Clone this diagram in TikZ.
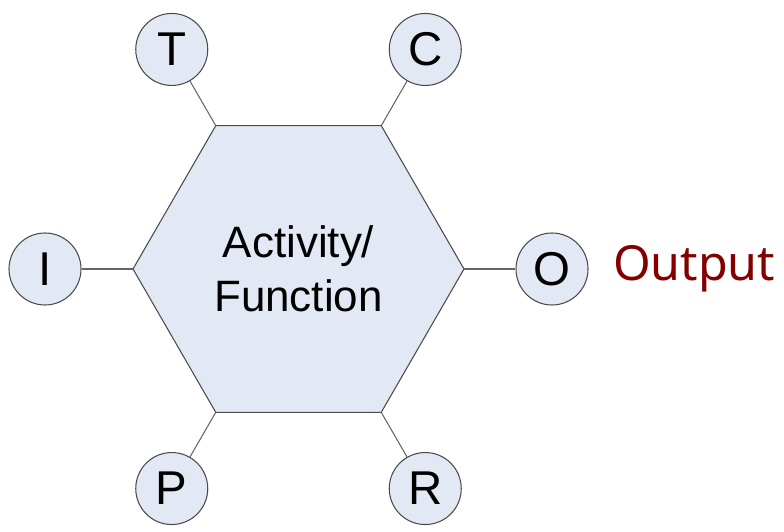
\documentclass[tikz,border=0pt]{standalone}
\usepackage{fontspec}
\setmainfont{Liberation Sans}
\newfontfamily\handfont{Noto Sans}
\usetikzlibrary{shapes.geometric,positioning}
\definecolor{HexFill}{HTML}{E3E9F4}
\definecolor{HexLine}{HTML}{4A4A4A}
\definecolor{OutRed}{HTML}{840000}

\begin{document}
\begin{tikzpicture}[line width=0.6pt,
  hexbox/.style={regular polygon,regular polygon sides=6,minimum size=6.62cm,
    inner sep=0pt,outer sep=0pt,draw=HexLine,fill=HexFill,align=center,
    font=\fontsize{25}{31}\selectfont},
  port/.style={circle,minimum size=1.44cm,inner sep=0pt,draw=HexLine,
    fill=HexFill,font=\fontsize{27}{30}\selectfont},
  link/.style={draw=HexLine!85}]
  \useasboundingbox (0,0) rectangle (15.68,10.62);

  \node[hexbox] (act) at (5.97,5.24) {Activity/\\Function};
  % one port per corner, pushed out along the corner direction
  \foreach \name/\ang in {O/0,C/60,T/120,I/180,P/240,R/300}{
    \node[port] (\name) at ([shift={(\ang:1.76)}]act.\ang) {\name};
    \draw[link] (act.\ang) -- (\name);
  }
  \node[right=0.48cm of O,inner sep=0pt,font=\handfont\fontsize{27.5}{33}\selectfont,
    text=OutRed] (out) {Output};
\end{tikzpicture}
\end{document}
